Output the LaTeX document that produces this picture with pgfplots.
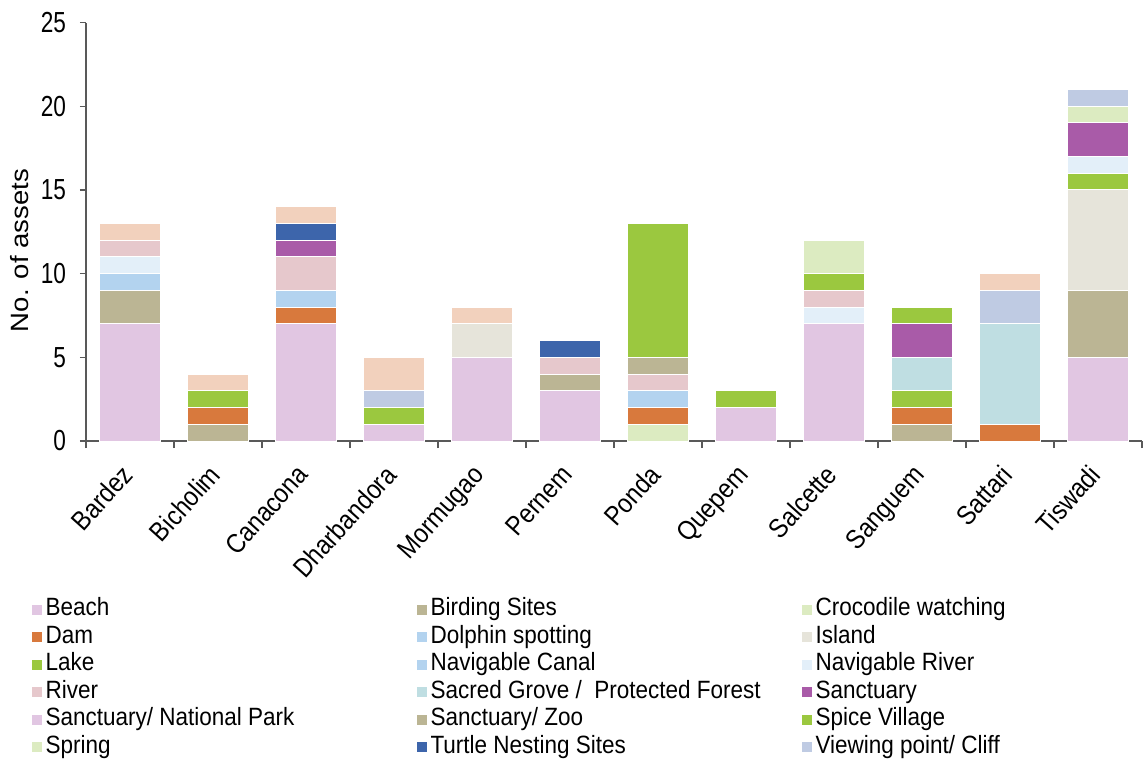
\documentclass[border=0pt]{standalone}
\usepackage{pgfplots}
\pgfplotsset{compat=1.18}
\usepackage{pgfplotstable}
\usepackage{fontspec}
\setmainfont{Liberation Sans}[FakeStretch=0.88]
\newfontfamily\tickfont{Liberation Sans}[FakeStretch=0.78]
\newfontfamily\ylabfont{Liberation Sans}[FakeStretch=1.1]
\newfontfamily\legfont{Liberation Sans}[FakeStretch=0.9]
\definecolor{cBeach}{HTML}{E1C6E2}
\definecolor{cBird}{HTML}{BBB594}
\definecolor{cCroc}{HTML}{DCEBC1}
\definecolor{cDam}{HTML}{D8793D}
\definecolor{cDolph}{HTML}{B3D3EF}
\definecolor{cIsland}{HTML}{E6E4DA}
\definecolor{cLake}{HTML}{9BC83F}
\definecolor{cNavRiv}{HTML}{E3EFF9}
\definecolor{cRiver}{HTML}{E6C8CC}
\definecolor{cSacred}{HTML}{BFDEE2}
\definecolor{cSanct}{HTML}{A95BA8}
\definecolor{cTurtle}{HTML}{3D65AB}
\definecolor{cView}{HTML}{BFCBE3}
\definecolor{cWater}{HTML}{F2D1BD}
\definecolor{axgray}{HTML}{595959}

\pgfplotstableread{
x Beach Birding Croc Dam Dolphin Island Lake Canal NavRiver River Sacred Sanct SNP SZoo Spice Spring Turtle View Water
0 7 2 0 0 1 0 0 0 1 1 0 0 0 0 0 0 0 0 1
1 0 1 0 1 0 0 1 0 0 0 0 0 0 0 0 0 0 0 1
2 7 0 0 1 1 0 0 0 0 2 0 1 0 0 0 0 1 0 1
3 1 0 0 0 0 0 1 0 0 0 0 0 0 0 0 0 0 1 2
4 5 0 0 0 0 2 0 0 0 0 0 0 0 0 0 0 0 0 1
5 3 1 0 0 0 0 0 0 0 1 0 0 0 0 0 0 1 0 0
6 0 0 1 1 0 0 0 1 0 1 0 0 0 1 8 0 0 0 0
7 2 0 0 0 0 0 1 0 0 0 0 0 0 0 0 0 0 0 0
8 7 0 0 0 0 0 0 0 1 1 0 0 0 0 1 2 0 0 0
9 0 1 0 1 0 0 1 0 0 0 2 2 0 0 1 0 0 0 0
10 0 0 0 1 0 0 0 0 0 0 6 0 0 0 0 0 0 2 1
11 5 4 0 0 0 6 1 0 1 0 0 2 0 0 0 1 0 1 0
}\data

\newcommand{\legtxt}[1]{\makebox[184pt][l]{#1}}

\begin{document}
\begin{tikzpicture}
\useasboundingbox (-43pt,-159.5pt) rectangle (530pt,220.5pt);
\begin{axis}[
  scale only axis,
  width=528pt, height=209.25pt,
  ybar stacked,
  bar width=0.69,
  xmin=-0.5, xmax=11.5, ymin=0, ymax=25,
  enlargelimits=false,
  axis x line*=bottom, axis y line*=left,
  axis line style={draw=axgray, line width=0.65pt, -},
  every tick/.style={draw=axgray, line width=0.65pt},
  tick align=outside,
  major tick length=3pt,
  ytick={0,5,...,25},
  xtick={0,...,11},
  xticklabels={Bardez,Bicholim,Canacona,Dharbandora,Mormugao,Pernem,Ponda,Quepem,Salcette,Sanguem,Sattari,Tiswadi},
  x tick style={draw=none},
  minor xtick={-0.5,0.5,...,11.5},
  minor x tick style={draw=axgray, line width=0.65pt},
  minor tick length=3.5pt,
  /pgf/number format/assume math mode=true,
  yticklabel style={font=\tickfont\fontsize{14.5}{16}\selectfont, text=black, xshift=-3.5pt},
  xticklabel style={font=\fontsize{13.5}{15}\selectfont, text=black, rotate=48, anchor=north east, xshift=-6pt, yshift=2pt},
  ylabel={No. of assets},
  ylabel style={font=\ylabfont\fontsize{12.5}{14}\selectfont, at={(axis description cs:-0.0625,0.455)}, anchor=center},
  legend columns=3,
  legend cell align=left,
  legend style={at={(axis description cs:-0.0515,-0.37)}, anchor=north west, draw=none, fill=none,
    inner sep=0pt, row sep=0pt, column sep=0pt,
    font=\legfont\fontsize{12.5}{14}\selectfont,
    nodes={inner sep=1.75pt, text height=8pt, text depth=2.25pt}},
  legend image code/.code={\fill[#1, draw=none] (0pt,-2.5pt) rectangle (5pt,2.5pt);},
  every axis plot/.append style={draw=white, line width=0.5pt},
]
\addplot[fill=cBeach] table[x=x,y=Beach]{\data};
\addlegendentry{\legtxt{Beach}}
\addplot[fill=cBird] table[x=x,y=Birding]{\data};
\addlegendentry{\legtxt{Birding Sites}}
\addplot[fill=cCroc] table[x=x,y=Croc]{\data};
\addlegendentry{\legtxt{Crocodile watching}}
\addplot[fill=cDam] table[x=x,y=Dam]{\data};
\addlegendentry{\legtxt{Dam}}
\addplot[fill=cDolph] table[x=x,y=Dolphin]{\data};
\addlegendentry{\legtxt{Dolphin spotting}}
\addplot[fill=cIsland] table[x=x,y=Island]{\data};
\addlegendentry{\legtxt{Island}}
\addplot[fill=cLake] table[x=x,y=Lake]{\data};
\addlegendentry{\legtxt{Lake}}
\addplot[fill=cDolph] table[x=x,y=Canal]{\data};
\addlegendentry{\legtxt{Navigable Canal}}
\addplot[fill=cNavRiv] table[x=x,y=NavRiver]{\data};
\addlegendentry{\legtxt{Navigable River}}
\addplot[fill=cRiver] table[x=x,y=River]{\data};
\addlegendentry{\legtxt{River}}
\addplot[fill=cSacred] table[x=x,y=Sacred]{\data};
\addlegendentry{\legtxt{Sacred Grove /\ \ Protected Forest}}
\addplot[fill=cSanct] table[x=x,y=Sanct]{\data};
\addlegendentry{\legtxt{Sanctuary}}
\addplot[fill=cBeach] table[x=x,y=SNP]{\data};
\addlegendentry{\legtxt{Sanctuary/ National Park}}
\addplot[fill=cBird] table[x=x,y=SZoo]{\data};
\addlegendentry{\legtxt{Sanctuary/ Zoo}}
\addplot[fill=cLake] table[x=x,y=Spice]{\data};
\addlegendentry{\legtxt{Spice Village}}
\addplot[fill=cCroc] table[x=x,y=Spring]{\data};
\addlegendentry{\legtxt{Spring}}
\addplot[fill=cTurtle] table[x=x,y=Turtle]{\data};
\addlegendentry{\legtxt{Turtle Nesting Sites}}
\addplot[fill=cView] table[x=x,y=View]{\data};
\addlegendentry{\legtxt{Viewing point/ Cliff}}
\addplot[fill=cWater, forget plot] table[x=x,y=Water]{\data};
\end{axis}
\end{tikzpicture}
\end{document}
